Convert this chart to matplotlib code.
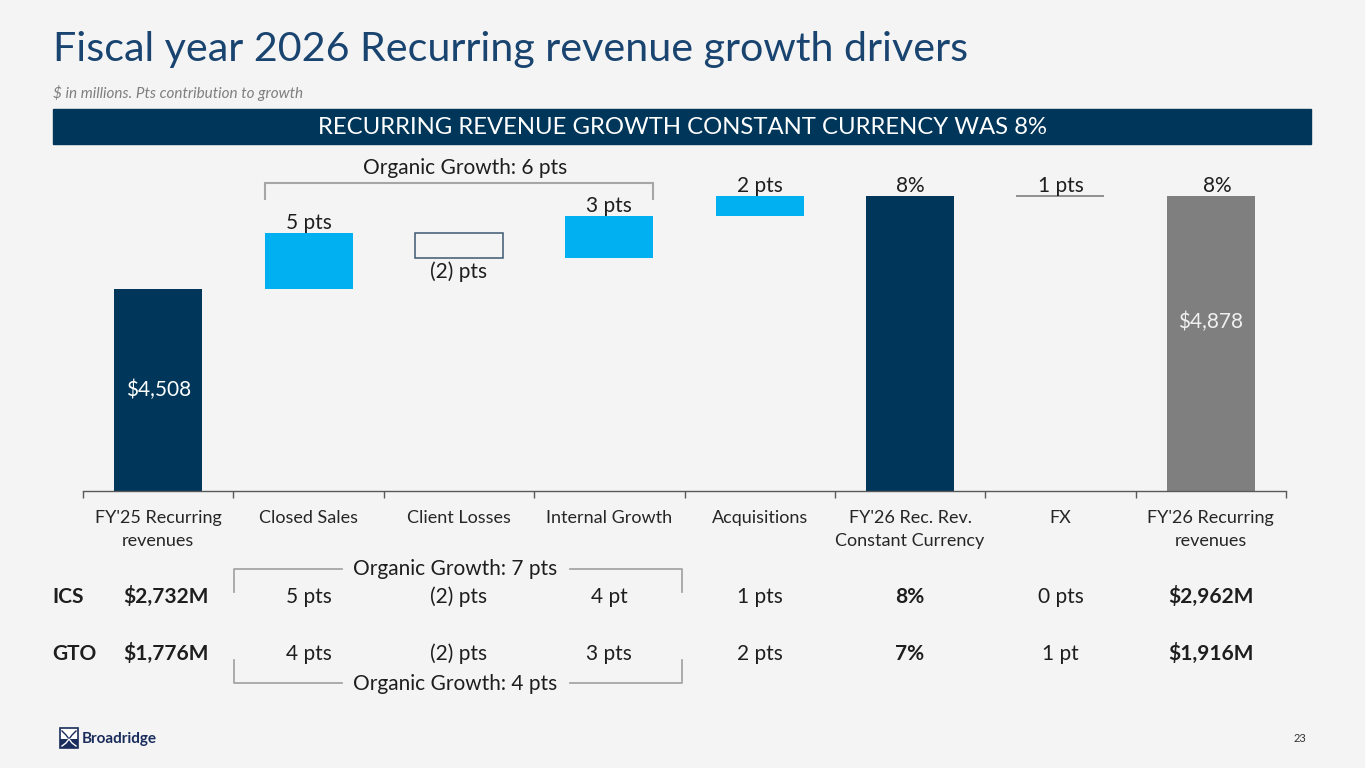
import matplotlib
matplotlib.use("Agg")
import matplotlib.pyplot as plt
import matplotlib.patches as mpatches
import matplotlib.transforms as mtransforms

# --- data ---
categories = ["FY'25 Recurring\nrevenues", "Closed Sales", "Client Losses", "Internal Growth",
              "Acquisitions", "FY'26 Rec. Rev.\nConstant Currency", "FX", "FY'26 Recurring\nrevenues"]
fy25_revenue = 4508
fy26_revenue = 4878
driver_pts = [4.9, -2.2, 3.7, 1.8]          # closed sales, client losses, internal growth, acquisitions
bar_labels = ["5 pts", "(2) pts", "3 pts", "2 pts", "8%", "1 pts", "8%"]
organic_label = "Organic Growth: 6 pts"

segments = ["ICS", "GTO"]
segment_fy25 = ["$2,732M", "$1,776M"]
segment_cells = [
    ["5 pts", "(2) pts", "4 pt", "1 pts", "8%", "0 pts", "$2,962M"],
    ["4 pts", "(2) pts", "3 pts", "2 pts", "7%", "1 pt", "$1,916M"],
]
segment_organic = ["Organic Growth: 7 pts", "Organic Growth: 4 pts"]

# --- styles ---
BG = "#F4F4F4"
NAVY = "#003659"
BLUE = "#00B0F0"
GREY = "#7F7F7F"
TITLE_C = "#1A4470"
TXT = "#1E1E1E"
BRACKET = "#A6A6A6"
FONT = "Lato"

plt.rcParams["font.family"] = [FONT, "DejaVu Sans"]

W, H = 1365, 768
fig = plt.figure(figsize=(W / 100, H / 100), dpi=100, facecolor=BG)

# overlay in pixel coords for slide decorations
deco = fig.add_axes([0, 0, 1, 1], facecolor="none")
deco.set_xlim(0, W)
deco.set_ylim(H, 0)
deco.axis("off")

# main waterfall axes
x0, x1, yb, yt = 83, 1286, 491, 150
ax = fig.add_axes([x0 / W, (H - yb) / H, (x1 - x0) / W, (yb - yt) / H], facecolor="none")
ax.set_xlim(-0.5, len(categories) - 0.5)
ybase = 3704
ax.set_ylim(ybase, 5061)

pt_value = fy25_revenue / 100.0
bw = 0.585
running = fy25_revenue
ax.bar(0, fy25_revenue - ybase, bottom=ybase, width=bw, color=NAVY)
tops = []
for i, p in enumerate(driver_pts):
    delta = p * pt_value
    lo = min(running, running + delta)
    if delta >= 0:
        ax.bar(i + 1, abs(delta), bottom=lo, width=bw, color=BLUE)
    else:
        ax.bar(i + 1, abs(delta), bottom=lo, width=bw, facecolor=BG, edgecolor="#3E5872", linewidth=1.1)
    running += delta
    tops.append((lo, lo + abs(delta)))
cc_value = running
ax.bar(5, cc_value - ybase, bottom=ybase, width=bw, color=NAVY)
fx_value = fy26_revenue - cc_value
ax.hlines(cc_value + fx_value, 6 - bw / 2, 6 + bw / 2, color=GREY, linewidth=1.2)
ax.bar(7, fy26_revenue - ybase, bottom=ybase, width=bw, color=GREY)

# labels above / below bars
lab_kw = dict(ha="center", fontsize=15, color=TXT, textcoords="offset points")
for i, (lo, hi) in enumerate(tops):
    if driver_pts[i] >= 0:
        ax.annotate(bar_labels[i], (i + 1, hi), xytext=(0, 3), va="baseline", **lab_kw)
    else:
        ax.annotate(bar_labels[i], (i + 1, lo), xytext=(0, -2), va="top", **lab_kw)
ax.annotate(bar_labels[4], (5, cc_value), xytext=(0, 3), va="baseline", **lab_kw)
ax.annotate(bar_labels[5], (6, cc_value + fx_value), xytext=(0, 3), va="baseline", **lab_kw)
ax.annotate(bar_labels[6], (7.04, fy26_revenue), xytext=(0, 3), va="baseline", **lab_kw)

ax.text(0, (ybase + fy25_revenue) / 2, f"${fy25_revenue:,}", ha="center", va="center",
        fontsize=15, color="white")
ax.text(7, fy26_revenue - 500, f"${fy26_revenue:,}", ha="center", va="center",
        fontsize=15, color="#F0F0F0")

# axis styling
for s in ["top", "right", "left"]:
    ax.spines[s].set_visible(False)
ax.spines["bottom"].set_color("#595959")
ax.spines["bottom"].set_linewidth(1.0)
ax.set_yticks([])
ax.set_xticks(range(len(categories)))
ax.set_xticklabels(categories, fontsize=13, color="#262626", linespacing=1.5)
ax.tick_params(axis="x", which="major", length=0, pad=14)
ax.set_xticks([i - 0.5 for i in range(len(categories) + 1)], minor=True)
ax.tick_params(axis="x", which="minor", length=5, width=1, color="#595959", direction="out")

# organic growth bracket above chart (x in data, y in pixels)
bt = mtransforms.blended_transform_factory(ax.transData, deco.transData)
gap_l, gap_r = 1 - bw / 2, 3 + bw / 2
deco.plot([gap_l, gap_l, gap_r, gap_r], [199, 183, 183, 199], color=BRACKET, lw=1.5, transform=bt,
          solid_joinstyle="miter")
deco.text(2.04, 168, organic_label, ha="center", va="center", fontsize=15, color=TXT, transform=bt)

# title, subtitle, banner
deco.text(53, 50, "Fiscal year 2026 Recurring revenue growth drivers", fontsize=29.7, color=TITLE_C,
          va="center", ha="left")
deco.text(53, 93, "$ in millions. Pts contribution to growth", fontsize=11, color="#7F7F7F",
          style="italic", va="center", ha="left")
deco.add_patch(mpatches.Rectangle((53, 109), 1258, 35, color=NAVY))
deco.text(682, 127, "RECURRING REVENUE GROWTH CONSTANT CURRENCY WAS 8%", fontsize=17.2, color="white",
          ha="center", va="center")

# segment table
row_base = [603, 660]
bold_cols = {4, 6}
for r, seg in enumerate(segments):
    deco.text(52, row_base[r], seg, fontsize=15, fontweight="bold", color=TXT, ha="left", va="baseline")
    deco.text(166, row_base[r], segment_fy25[r], fontsize=15, fontweight="bold", color=TXT,
              ha="center", va="baseline")
    for c, cell in enumerate(segment_cells[r]):
        deco.text(c + 1, row_base[r], cell, fontsize=15, color=TXT, ha="center", va="baseline",
                  fontweight="bold" if c in bold_cols else "normal", transform=bt)

# segment brackets with text gap
bl, br = 234, 682
deco.plot([bl, bl, 342], [592, 569, 569], color=BRACKET, lw=1.3)
deco.plot([570, br, br], [569, 569, 592], color=BRACKET, lw=1.3)
deco.text(455, 575, segment_organic[0], fontsize=15, color=TXT, ha="center", va="baseline")
deco.plot([bl, bl, 342], [660, 683, 683], color=BRACKET, lw=1.3)
deco.plot([570, br, br], [683, 683, 660], color=BRACKET, lw=1.3)
deco.text(455, 690, segment_organic[1], fontsize=15, color=TXT, ha="center", va="baseline")

# logo and page number
deco.add_patch(mpatches.Rectangle((60, 728), 18, 20, facecolor="white", edgecolor="#1A2C5B", lw=1.2))
deco.add_patch(mpatches.Rectangle((60, 739), 18, 9, facecolor="#1A2C5B"))
deco.plot([62, 66, 69, 72, 76], [731, 735, 739, 735, 731], color="#1A2C5B", lw=1)
deco.plot([62, 66, 69, 72, 76], [746, 743, 739, 743, 746], color="white", lw=1)
deco.text(82, 739, "Broadridge", fontsize=11, fontweight="bold", color="#1A2C5B", ha="left", va="center")
deco.text(1300, 739, "23", fontsize=8, color="#333333", ha="center", va="center")

fig.savefig("out.png", dpi=100, facecolor=BG)
